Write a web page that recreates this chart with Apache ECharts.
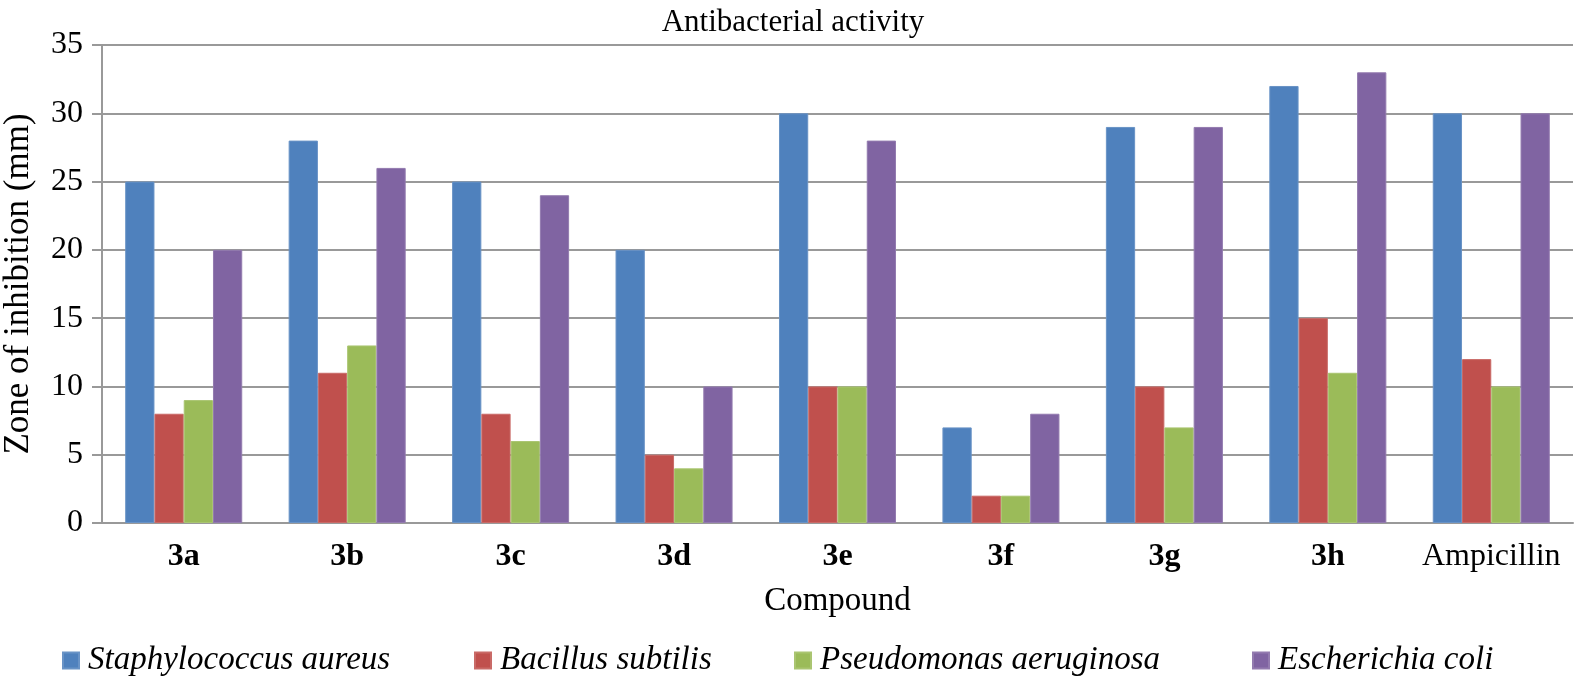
<!DOCTYPE html>
<html><head><meta charset="utf-8">
<script src="https://cdn.jsdelivr.net/npm/echarts@6/dist/echarts.min.js"></script>
<style>html,body{margin:0;padding:0;background:#fff}#c{width:1577px;height:679px}</style>
</head><body><div id="c"></div>
<script>
const categories = ['3a','3b','3c','3d','3e','3f','3g','3h','Ampicillin'];
const seriesNames = ['Staphylococcus aureus','Bacillus subtilis','Pseudomonas aeruginosa','Escherichia coli'];
const staphylococcus = [25, 28, 25, 20, 30, 7, 29, 32, 30];
const bacillus = [8, 11, 8, 5, 10, 2, 10, 15, 12];
const pseudomonas = [9, 13, 6, 4, 10, 2, 7, 11, 10];
const escherichia = [20, 26, 24, 10, 28, 8, 29, 33, 30];
const yTicks = [0, 5, 10, 15, 20, 25, 30, 35];
const colors = ['#4F81BD', '#C0504D', '#9BBB59', '#8064A2'];
const values = [staphylococcus, bacillus, pseudomonas, escherichia];

const font = 'Liberation Serif';
const legendLefts = [57, 469, 789, 1247];

const chart = echarts.init(document.getElementById('c'), null, {renderer: 'canvas'});
chart.setOption({
  animation: false,
  color: colors,
  textStyle: {fontFamily: font, color: '#000'},
  title: {
    text: 'Antibacterial activity', left: 788, textAlign: 'center', top: 2,
    textStyle: {fontFamily: font, fontSize: 31, fontWeight: 'normal', color: '#000'}
  },
  legend: seriesNames.map((n, i) => ({
    data: [n], left: legendLefts[i], top: 639, itemWidth: 16, itemHeight: 16, itemGap: 0,
    icon: 'rect',
    textStyle: {fontFamily: font, fontSize: 33, fontStyle: 'italic', color: '#000', padding: [0,0,0,4]}
  })),
  grid: {left: 102, right: 4, top: 45, bottom: 156, containLabel: false, outerBoundsMode: 'none'},
  xAxis: {
    type: 'category', data: categories,
    name: 'Compound', nameLocation: 'middle', nameGap: 62,
    nameTextStyle: {fontFamily: font, fontSize: 33, color: '#000'},
    axisLine: {lineStyle: {color: '#999', width: 2}},
    axisTick: {show: false},
    axisLabel: {
      interval: 0, hideOverlap: false,
      margin: 18, fontFamily: font, fontSize: 32, color: '#000',
      formatter: v => v === 'Ampicillin' ? v : '{b|' + v + '}',
      rich: {b: {fontFamily: font, fontSize: 32, fontWeight: 'bold', color: '#000'}}
    }
  },
  yAxis: {
    type: 'value', min: yTicks[0], max: yTicks[yTicks.length-1], interval: 5,
    name: 'Zone of inhibition (mm)', nameLocation: 'middle', nameGap: 66,
    nameTextStyle: {fontFamily: font, fontSize: 35, color: '#000'},
    axisLine: {show: true, lineStyle: {color: '#999', width: 2}},
    axisTick: {show: true, length: 10, lineStyle: {color: '#999', width: 2}},
    axisLabel: {margin: 19, fontFamily: font, fontSize: 32, color: '#000'},
    splitLine: {lineStyle: {color: '#999', width: 2}}
  },
  series: seriesNames.map((n, i) => ({
    name: n, type: 'bar', data: values[i],
    barGap: '0%', barCategoryGap: '28.4%',
    itemStyle: {color: colors[i], borderColor: echarts.color.lift(colors[i], 0.15), borderWidth: 1}
  }))
});
</script></body></html>
